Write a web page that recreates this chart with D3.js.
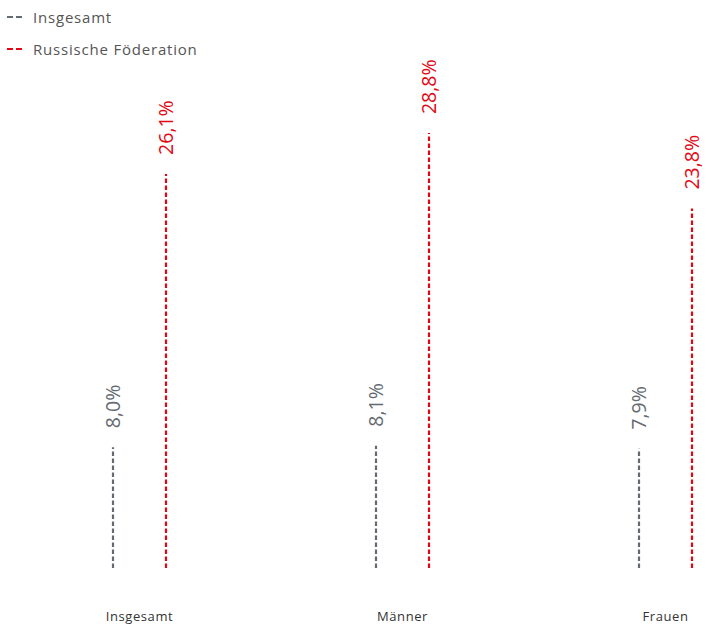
<!DOCTYPE html>
<html>
<head>
<meta charset="utf-8">
<script src="https://cdn.jsdelivr.net/npm/d3@7"></script>
<style>
    body { margin: 0; background: #fff; }
    svg text { font-family: "Open Sans", "Noto Sans", sans-serif; }
</style>
</head>
<body>
<div class="graph-bd"></div>
<script>
// data
let categories = ["Insgesamt", "Männer", "Frauen"];
let seriesNames = ["Insgesamt", "Russische Föderation"];
let insgesamtValues = [8.0, 8.1, 7.9];
let russlandValues = [26.1, 28.8, 23.8];
let seriesColors = ["#646a71", "#e30613"];

function run() {
    let root = document.querySelector('.graph-bd');
    let w = 706, h = 626;
    let svg = d3.select(root).append("svg")
        .attr("width", w)
        .attr("height", h);

    let baseline = 568;

    // scales
    let xScale = d3.scalePoint()
        .domain(categories)
        .range([139.5, 665.5]);
    let xSub = d3.scalePoint()
        .domain(seriesNames)
        .range([-26.5, 26.5]);
    let yScale = d3.scaleLinear()
        .domain([0, 30])
        .range([baseline, baseline - 453]);

    let fmt = function(v) { return d3.format(".1f")(v).replace(".", ",") + "%"; };

    let data = [];
    categories.forEach(function(c, i) {
        data.push({ cat: c, series: seriesNames[0], value: insgesamtValues[i], color: seriesColors[0] });
        data.push({ cat: c, series: seriesNames[1], value: russlandValues[i], color: seriesColors[1] });
    });

    // dashed lines
    svg.selectAll("line.bar")
        .data(data)
        .enter()
        .append("line")
        .attr("class", "bar")
        .attr("x1", function(d) { return xScale(d.cat) + xSub(d.series); })
        .attr("x2", function(d) { return xScale(d.cat) + xSub(d.series); })
        .attr("y1", yScale(0))
        .attr("y2", function(d) { return yScale(d.value); })
        .attr("stroke", function(d) { return d.color; })
        .attr("stroke-width", 2.2)
        .attr("stroke-dasharray", "4.5,2.5");

    // value labels
    svg.selectAll("text.val")
        .data(data)
        .enter()
        .append("text")
        .attr("class", "val")
        .attr("transform", function(d) {
            let x = xScale(d.cat) + xSub(d.series) + 6.5;
            let y = yScale(d.value) - 19;
            return "translate(" + x + "," + y + ") rotate(-90)";
        })
        .attr("font-size", "19.5px")
        .attr("fill", function(d) { return d.color; })
        .text(function(d) { return fmt(d.value); });

    // category labels
    svg.selectAll("text.cat")
        .data(categories)
        .enter()
        .append("text")
        .attr("class", "cat")
        .attr("x", function(d) { return xScale(d); })
        .attr("y", 621)
        .attr("text-anchor", "middle")
        .attr("font-size", "13px")
        .attr("letter-spacing", "0.6px")
        .attr("fill", "#333")
        .text(function(d) { return d; });

    // legend
    let legend = svg.selectAll("g.legend")
        .data(seriesNames)
        .enter()
        .append("g")
        .attr("class", "legend")
        .attr("transform", function(d, i) { return "translate(7," + (17 + i * 32) + ")"; });
    legend.append("line")
        .attr("x1", 0)
        .attr("x2", 15)
        .attr("stroke", function(d, i) { return seriesColors[i]; })
        .attr("stroke-width", 2)
        .attr("stroke-dasharray", "6,3");
    legend.append("text")
        .attr("x", 26)
        .attr("y", 5.5)
        .attr("font-size", "15px")
        .attr("letter-spacing", "0.8px")
        .attr("fill", "#555")
        .text(function(d) { return d; });
}
window.addEventListener('load', run);
</script>
</body>
</html>
